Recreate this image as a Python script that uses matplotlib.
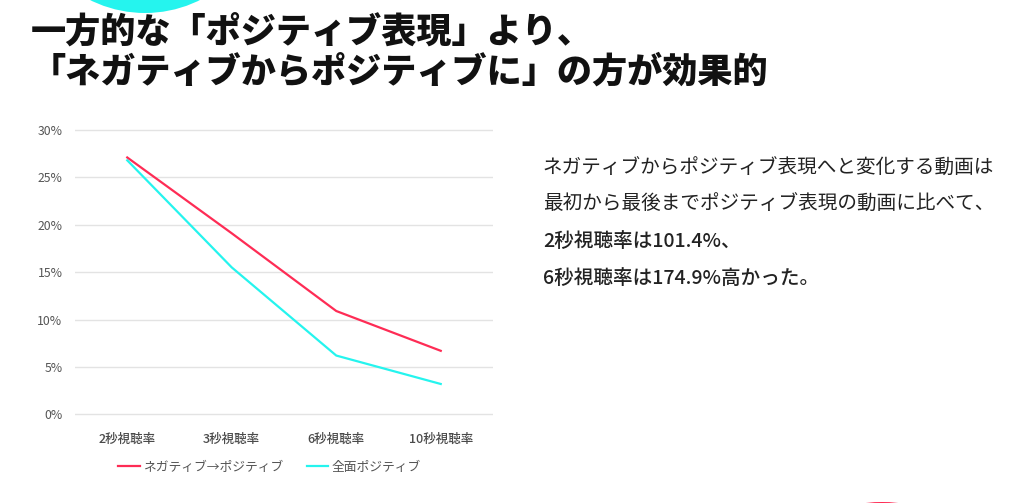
import matplotlib.pyplot as plt
from matplotlib.patches import Ellipse

plt.rcParams['font.family'] = ['Noto Sans CJK JP', 'DejaVu Sans']

# data
categories = ['2秒視聴率', '3秒視聴率', '6秒視聴率', '10秒視聴率']
neg_to_pos = [27.1, 19.1, 10.9, 6.7]
all_pos = [26.8, 15.5, 6.2, 3.2]
series_labels = ['ネガティブ→ポジティブ', '全面ポジティブ']
yticks = [0, 5, 10, 15, 20, 25, 30]

title_lines = ['一方的な「ポジティブ表現」より、', '「ネガティブからポジティブに」の方が効果的']
note_lines = ['ネガティブからポジティブ表現へと変化する動画は',
              '最初から最後までポジティブ表現の動画に比べて、',
              '2秒視聴率は101.4%、',
              '6秒視聴率は174.9%高かった。']

RED = '#FE2C55'
CYAN = '#25F4EE'

W, H = 1024, 503
fig = plt.figure(figsize=(W / 100, H / 100), dpi=100)

# decorative circles (sizes in pixels)
def blob(cx, cy, r, color):
    fig.patches.append(Ellipse((cx / W, 1 - cy / H), 2 * r / W, 2 * r / H,
                               transform=fig.transFigure, facecolor=color, edgecolor='none'))

blob(145, -110, 123, CYAN)
blob(882, 652, 150, RED)

ax = fig.add_axes([75 / W, 1 - 416.2 / H, (493 - 75) / W, (416.2 - 128.1) / H])
x = range(len(categories))
ax.plot(x, neg_to_pos, color=RED, lw=1.6, label=series_labels[0])
ax.plot(x, all_pos, color=CYAN, lw=1.6, label=series_labels[1])

ax.set_xlim(-0.5, len(categories) - 0.5)
ax.set_ylim(-0.2, 30.2)
ax.set_yticks(yticks)
ax.set_yticklabels([f'{v}%' for v in yticks])
ax.set_xticks(list(x))
ax.set_xticklabels(categories)
ax.grid(axis='y', color='#e3e3e3', lw=1)
ax.set_axisbelow(True)
for s in ax.spines.values():
    s.set_visible(False)
ax.tick_params(axis='y', length=0, pad=9, labelsize=8.8, labelcolor='#555555')
ax.tick_params(axis='x', length=0, pad=12, labelsize=9, labelcolor='#4a4a4a')
for lbl in ax.get_xticklabels():
    lbl.set_fontweight('medium')

fig.legend(loc='center', bbox_to_anchor=(269.5 / W, 1 - 467 / H), ncol=2, frameon=False,
           fontsize=9.2, labelcolor='#555555', handlelength=1.7, handletextpad=0.25,
           columnspacing=1.8, borderpad=0)

# title
for i, line in enumerate(title_lines):
    fig.text(31 / W, 1 - (32 + 40 * i) / H, line, fontsize=25.3, fontweight=900,
             color='#111111', va='center', ha='left')

# note text
for i, line in enumerate(note_lines):
    fig.text(543 / W, 1 - (168 + 36.8 * i) / H, line, fontsize=14.1,
             fontweight='medium' if i >= 2 else 'normal', color='#222222',
             va='center', ha='left')

fig.savefig('out.png', dpi=100)
